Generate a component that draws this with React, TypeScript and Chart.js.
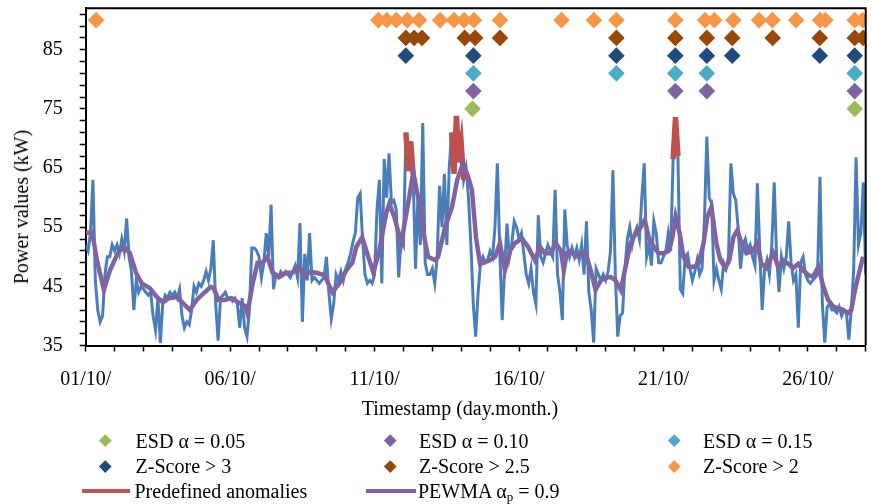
import React, { useEffect, useRef } from "react";
import { Chart, registerables } from "chart.js";

Chart.register(...registerables);

// ---- axis labels ----
const dateLabels = ["01/10/", "06/10/", "11/10/", "16/10/", "21/10/", "26/10/"];
const yLabelValues = [35, 45, 55, 65, 75, 85];

// ---- power values (kW), one value every 2 hours from 01/10 00:00 ----
const powerValues = [
  52, 51, 54, 63, 46, 41, 39, 40, 47, 50, 50, 52,
  51, 52, 50.5, 53, 51, 56.5, 50, 47.5, 41, 46, 44, 45,
  44.5, 44, 43.5, 44, 40, 37.6, 43, 35.4, 42, 43.5, 43, 44,
  43.5, 44, 43, 44.5, 40, 38, 39, 38.5, 41, 45, 44, 45.5,
  45, 46, 47.5, 46, 48, 52.8, 42, 35.8, 43, 43.5, 44, 43,
  43, 42.5, 43, 42, 38, 43, 38, 36.5, 41, 51.5, 51.5, 51,
  50, 46.5, 49, 54, 50, 58.8, 44.5, 47, 46.5, 47.5, 47, 47.5,
  47, 46.5, 47.5, 48.5, 46.5, 55.7, 39, 50.5, 46, 54, 46, 46.5,
  46, 45.5, 46, 46.5, 50, 44, 39.5, 42, 47, 46, 47.5, 46,
  48, 49, 50.5, 52.5, 54, 60, 60.7, 53, 47, 45.5, 46, 45.5,
  47, 58, 63, 45.5, 66.5, 60, 67.5, 59, 59.5, 58, 46.5, 53,
  52, 71, 64.5, 69.5, 64, 48, 60, 52, 72.6, 49, 47,
  47, 48, 45.5, 50, 62, 55, 64, 52, 65, 71, 64, 73.8,
  66, 69, 63, 65, 60, 52, 42, 36.5, 44, 49, 50, 49,
  49.5, 51, 50, 55, 65.8, 51, 39.3, 48, 55.6, 50, 52.3, 56,
  55, 53, 54, 50.5, 47, 45.5, 48, 44, 42, 57, 50, 49,
  50.5, 52, 51, 50, 61.3, 47, 44, 39.3, 58, 52, 50, 51.5,
  50, 51.5, 49.5, 52, 47, 56, 44, 41, 35.5, 48, 47, 46,
  47, 46, 47.5, 51, 64.6, 47, 36.5, 40, 40.5, 48, 53, 55,
  52, 54, 55, 53, 60, 65.8, 50, 52, 48.5, 56, 54, 49,
  49, 50, 51, 54, 51, 66.5, 73.6, 67, 44.5, 43.8, 50, 50.5,
  48, 46, 47.5, 49.5, 47, 48, 56, 70.3, 60, 59, 46, 48,
  46, 44.5, 49, 48, 50, 65.8, 60.7, 59.6, 55, 48, 52, 53,
  51, 52, 50, 48.5, 62.4, 51, 41, 48, 49.5, 47, 52, 62.6,
  50, 44, 50, 48, 50, 56, 49, 46, 47, 38, 49, 50,
  47, 46, 45.5, 46, 46.5, 47, 63.5, 42, 35.5, 41.5, 42, 41,
  41, 40.5, 41.5, 40, 41, 40.5, 36, 41, 47.7, 66.8, 52, 54,
  62.6, 47,
];

// index ranges of predefined anomalies (inclusive)
const anomalyStart = [133, 152, 244];
const anomalyEnd = [136, 157, 246];

// ---- PEWMA (alpha_p = 0.9) ----
const pewmaDays = [
  0.01, 0.22, 0.39, 0.63, 0.84, 1.11, 1.32, 1.53, 1.74, 1.94, 2.22, 2.46, 2.67, 2.88,
  3.15, 3.36, 3.6, 3.84, 4.08, 4.33, 4.43, 4.6, 4.81, 5.05, 5.29, 5.54, 5.6, 5.78,
  5.95, 6.12, 6.29, 6.47, 6.71, 6.95, 7.16, 7.4, 7.57, 7.75, 7.99, 8.26, 8.54, 8.78,
  9.02, 9.23, 9.37, 9.57, 9.82, 9.96, 10.16, 10.4, 10.51, 10.68, 10.92, 11.16, 11.34,
  11.48, 11.58, 11.72, 11.85, 12.1, 12.2, 12.44, 12.68, 12.86, 13.06, 13.24, 13.37,
  13.51, 13.65, 13.82, 13.99, 14.17, 14.34, 14.51, 14.69, 14.86, 15.1, 15.31, 15.55,
  15.72, 15.89, 16.1, 16.27, 16.45, 16.55, 16.65, 16.79, 16.96, 17.13, 17.31, 17.48,
  17.65, 17.83, 18.0, 18.17, 18.34, 18.52, 18.69, 18.86, 19.04, 19.21, 19.35, 19.49,
  19.66, 19.83, 20.0, 20.18, 20.31, 20.42, 20.56, 20.69, 20.87, 21.04, 21.21, 21.39,
  21.52, 21.66, 21.83, 21.97, 22.14, 22.28, 22.42, 22.56, 22.7, 22.87, 23.08, 23.25,
  23.39, 23.56, 23.8, 23.97, 24.15, 24.32, 24.49, 24.66, 24.84, 25.01, 25.18, 25.36,
  25.53, 25.7, 25.87, 26.05, 26.22, 26.39, 26.5, 26.63, 26.77, 26.91,
];
const pewmaValues = [
  54, 54.2, 49.4, 44.4, 47.7, 50.6, 51.7, 50.6, 47.3, 45.5, 44.7, 43.2, 42.3, 43,
  43.2, 42.2, 41, 42.7, 43.8, 44.9, 44.7, 42.7, 42.7, 43, 42.3, 41.6, 40.5, 45.5,
  49, 49, 50, 47.3, 46.6, 47.3, 47.3, 48.3, 46.6, 47.4, 47.3, 46.9, 44, 45.5,
  47.7, 49, 51.7, 53.3, 49.4, 47.3, 51, 57.3, 59, 56.8, 52.3, 59, 64.3,
  60.7, 58.4, 53.3, 50, 49.4, 50, 55, 58.4, 63, 65.8, 63.5, 61.3,
  53.3, 48.8, 49.1, 49.4, 50, 52.3, 47.7, 51, 52.3, 53.1, 51.7, 49.4,
  51.7, 50.6, 50.6, 52.3, 51, 47.7, 50.6, 51, 50, 50.6, 50.6, 47.7,
  44.4, 46, 46.4, 46.6, 46, 44.4, 48.3, 52.3, 54, 55, 56.2, 53.3,
  51.7, 50.6, 50.6, 51, 53.3, 56.8, 54, 50, 48.3, 48.3, 48.8, 52.3,
  56.8, 58.4, 52.3, 49.4, 48.1, 49.4, 53.3, 54.5, 52.3, 50.6, 51, 52.3,
  48.8, 48.1, 50.6, 48.3, 49.4, 48.8, 48.1, 48.8, 47.7, 46.9, 46.6, 48.3,
  45, 42.7, 41.6, 41.3, 41, 40.5, 41, 44.4, 47.3, 50,
];

// ---- detected anomalies (day positions) ----
const esd005Days = [13.39, 26.62];
const esd010Days = [13.42, 20.41, 21.5, 26.62];
const esd015Days = [13.42, 18.37, 20.41, 21.5, 26.62];
const z3Days = [11.08, 13.42, 18.37, 20.41, 21.5, 22.38, 25.41, 26.62];
const z25Days = [11.08, 11.37, 11.64, 13.12, 13.48, 14.34, 18.37, 20.41, 21.5, 22.38, 23.78, 25.41, 26.62, 26.91];
const z2Days = [0.36, 10.13, 10.42, 10.75, 11.13, 11.54, 12.27, 12.75, 13.1, 13.44, 14.34, 16.47, 17.59, 18.37,
  20.41, 21.44, 21.76, 22.42, 23.31, 23.77, 24.59, 25.42, 25.6, 26.62, 26.89];

// marker rows (kW)
const esd005Level = 75;
const esd010Level = 78;
const esd015Level = 81;
const z3Level = 84;
const z25Level = 87;
const z2Level = 90;

const FONT = "'Liberation Serif', 'Times New Roman', serif";
const C = {
  blue: "#4a7ebb",
  red: "#c0504d",
  purple: "#8064a2",
  green: "#9bbb59",
  teal: "#4bacc6",
  navy: "#234a7e",
  brown: "#984807",
  orange: "#f79646",
};

const frame = {
  id: "frame",
  afterDraw(chart: any) {
    const { ctx, chartArea: a } = chart;
    ctx.save();
    ctx.strokeStyle = "#000";
    ctx.lineWidth = 2;
    ctx.beginPath();
    ctx.moveTo(a.left, a.top);
    ctx.lineTo(a.right, a.top);
    ctx.lineTo(a.right, a.bottom);
    ctx.stroke();
    ctx.restore();
  },
};

function Diamond({ color, x, y }: { color: string; x: number; y: number }) {
  return (
    <div
      style={{
        position: "absolute",
        left: x - 4.25,
        top: y - 4.25,
        width: 8.5,
        height: 8.5,
        background: color,
        transform: "rotate(45deg)",
      }}
    />
  );
}

function Text({ x, y, children }: { x: number; y: number; children: any }) {
  return (
    <div style={{ position: "absolute", left: x, top: y - 12, lineHeight: "24px", fontSize: 20, whiteSpace: "nowrap" }}>
      {children}
    </div>
  );
}

const zeroPad = (s: any) => {
  s.paddingTop = 0;
  s.paddingBottom = 0;
  s.paddingLeft = 0;
  s.paddingRight = 0;
};

export default function App() {
  const ref = useRef<HTMLCanvasElement>(null);

  useEffect(() => {
    const blue = powerValues.map((v, i) => ({ x: i / 12, y: v }));
    const red = powerValues.map((v, i) => {
      let inside = false;
      for (let k = 0; k < anomalyStart.length; k++) if (i >= anomalyStart[k] && i <= anomalyEnd[k]) inside = true;
      return { x: i / 12, y: inside ? v : null };
    });
    const pewma = pewmaDays.map((d, i) => ({ x: d, y: pewmaValues[i] }));
    const marker = (label: string, days: number[], level: number, color: string) => ({
      label,
      data: days.map((d) => ({ x: d, y: level })),
      showLine: false,
      pointStyle: "rectRot",
      pointRadius: 8.3,
      pointHoverRadius: 8.3,
      pointBorderWidth: 0,
      pointBackgroundColor: color,
      pointBorderColor: color,
      backgroundColor: color,
      borderColor: color,
      order: 1,
    });

    const yTicks: number[] = [];
    for (let v = 35; v <= 91; v += 2) yTicks.push(v);
    const xTicks: number[] = [];
    for (let d = 0; d <= 27; d++) xTicks.push(d);

    const chart = new Chart(ref.current as HTMLCanvasElement, {
      type: "line",
      data: {
        datasets: [
          marker("ESD α = 0.05", esd005Days, esd005Level, C.green),
          marker("ESD α = 0.10", esd010Days, esd010Level, C.purple),
          marker("ESD α = 0.15", esd015Days, esd015Level, C.teal),
          marker("Z-Score > 3", z3Days, z3Level, C.navy),
          marker("Z-Score > 2.5", z25Days, z25Level, C.brown),
          marker("Z-Score > 2", z2Days, z2Level, C.orange),
          {
            label: "PEWMA",
            data: pewma,
            borderColor: C.purple,
            borderWidth: 4.5,
            pointRadius: 0,
            tension: 0,
            order: 2,
          } as any,
          {
            label: "Predefined anomalies",
            data: red,
            borderColor: C.red,
            borderWidth: 5.5,
            pointRadius: 0,
            spanGaps: false,
            tension: 0,
            order: 3,
          } as any,
          {
            label: "Power",
            data: blue,
            borderColor: C.blue,
            borderWidth: 3,
            pointRadius: 0,
            tension: 0,
            order: 4,
          } as any,
        ],
      },
      options: {
        responsive: false,
        animation: false,
        devicePixelRatio: 1,
        layout: { padding: { top: 8, right: 6.3, left: 0, bottom: 0 } },
        plugins: { legend: { display: false }, tooltip: { enabled: false } },
        scales: {
          x: {
            type: "linear",
            min: 0,
            max: 27,
            afterBuildTicks: (s: any) => {
              s.ticks = xTicks.map((v) => ({ value: v }));
            },
            afterFit: (s: any) => {
              s.height = 158.5;
              zeroPad(s);
            },
            ticks: {
              autoSkip: false,
              maxRotation: 0,
              minRotation: 0,
              padding: 16,
              color: "#000",
              font: { family: FONT, size: 20 },
              callback: (v: any) => {
                const n = Math.round(Number(v));
                return n % 5 === 0 && dateLabels[n / 5] ? dateLabels[n / 5] : "";
              },
            },
            grid: { drawOnChartArea: false, drawTicks: true, tickLength: 6, tickColor: "#000", tickWidth: 1.5 },
            border: { color: "#000", width: 2 },
          },
          y: {
            type: "linear",
            min: 35,
            max: 92,
            afterBuildTicks: (s: any) => {
              s.ticks = yTicks.map((v) => ({ value: v }));
            },
            afterFit: (s: any) => {
              s.width = 85.7;
              zeroPad(s);
            },
            ticks: {
              autoSkip: false,
              padding: 17,
              color: "#000",
              font: { family: FONT, size: 20 },
              callback: (v: any) => (yLabelValues.includes(Math.round(Number(v))) ? String(Math.round(Number(v))) : ""),
            },
            grid: { drawOnChartArea: false, drawTicks: true, tickLength: 6, tickColor: "#000", tickWidth: 1.5 },
            border: { color: "#000", width: 2 },
          },
        },
      } as any,
      plugins: [frame],
    });
    return () => chart.destroy();
  }, []);

  return (
    <div style={{ position: "absolute", left: 0, top: 0, width: 874, height: 504, fontFamily: FONT, color: "#000", background: "#fff" }}>
      <canvas ref={ref} width={874} height={504} style={{ position: "absolute", left: 0, top: 0, width: 874, height: 504 }} />
      {/* y-axis title */}
      <div
        style={{
          position: "absolute",
          left: 21,
          top: 207,
          transform: "translate(-50%, -50%) rotate(-90deg)",
          fontSize: 20,
          lineHeight: "24px",
          whiteSpace: "nowrap",
        }}
      >
        Power values (kW)
      </div>
      {/* x-axis title */}
      <div
        style={{
          position: "absolute",
          left: 460,
          top: 408,
          transform: "translate(-50%, -50%)",
          fontSize: 20,
          lineHeight: "24px",
          whiteSpace: "nowrap",
        }}
      >
        Timestamp (day.month.)
      </div>
      {/* legend */}
      <Diamond color={C.green} x={105} y={440.7} />
      <Text x={135.6} y={440.7}>ESD α = 0.05</Text>
      <Diamond color={C.purple} x={390.4} y={440.7} />
      <Text x={419} y={440.7}>ESD α = 0.10</Text>
      <Diamond color={C.teal} x={674.6} y={440.7} />
      <Text x={703} y={440.7}>ESD α = 0.15</Text>

      <Diamond color={C.navy} x={105} y={466} />
      <Text x={135.6} y={466}>Z-Score &gt; 3</Text>
      <Diamond color={C.brown} x={390.4} y={466} />
      <Text x={419} y={466}>Z-Score &gt; 2.5</Text>
      <Diamond color={C.orange} x={674.6} y={466} />
      <Text x={703} y={466}>Z-Score &gt; 2</Text>

      <div style={{ position: "absolute", left: 82, top: 488.7, width: 48, height: 4, background: C.red }} />
      <Text x={134.5} y={490.7}>Predefined anomalies</Text>
      <div style={{ position: "absolute", left: 365.5, top: 488.7, width: 50, height: 4, background: C.purple }} />
      <Text x={418} y={490.7}>
        PEWMA α<sub style={{ fontSize: 13, verticalAlign: "-3px" }}>p</sub> = 0.9
      </Text>
    </div>
  );
}
